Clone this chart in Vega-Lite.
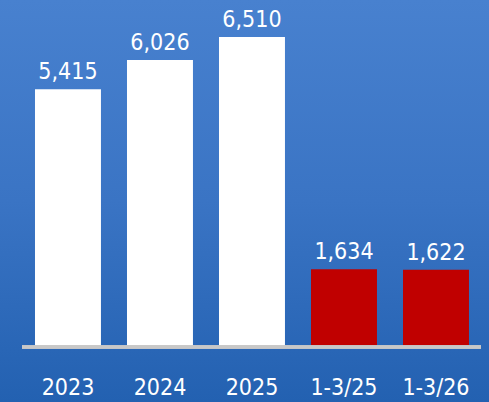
{
  "$schema": "https://vega.github.io/schema/vega-lite/v6.json",
  "width": 489,
  "height": 402,
  "autosize": {"type": "none"},
  "padding": 0,
  "background": "#3670C0",
  "config": {"view": {"stroke": null, "fill": {"gradient": "linear", "x1": 0, "y1": 0, "x2": 0, "y2": 1, "stops": [{"offset": 0, "color": "#4881CF"}, {"offset": 0.5, "color": "#3A74C4"}, {"offset": 1, "color": "#2361B1"}]}}},
  "data": {"values": [
    {"period": "2023", "value": 5415, "group": "year"},
    {"period": "2024", "value": 6026, "group": "year"},
    {"period": "2025", "value": 6510, "group": "year"},
    {"period": "1-3/25", "value": 1634, "group": "q"},
    {"period": "1-3/26", "value": 1622, "group": "q"}
  ]},
  "encoding": {
    "x": {"field": "period", "type": "nominal", "sort": null,
      "scale": {"paddingInner": 0.283, "paddingOuter": 0.299, "align": 0.636},
      "axis": null},
    "y": {"field": "value", "type": "quantitative",
      "scale": {"domain": [-1155, 7287], "nice": false, "zero": false}, "axis": null}
  },
  "layer": [
    {"mark": {"type": "bar"},
     "encoding": {"y2": {"datum": 0},
       "color": {"field": "group", "type": "nominal",
       "scale": {"domain": ["year", "q"], "range": ["#FFFFFF", "#C00000"]}, "legend": null}}},
    {"mark": {"type": "rule", "color": "#C8C8C8", "strokeWidth": 3},
     "encoding": {
       "x": {"datum": "2023", "bandPosition": -0.197},
       "x2": {"datum": "1-3/26", "bandPosition": 1.18},
       "y": {"datum": 0}}},
    {"mark": {"type": "text", "baseline": "alphabetic", "dy": -10, "color": "white",
      "font": "DejaVu Sans Condensed", "fontSize": 23},
     "encoding": {"text": {"field": "value", "type": "quantitative", "format": ","}}},
    {"mark": {"type": "text", "baseline": "alphabetic", "color": "white",
      "font": "DejaVu Sans Condensed", "fontSize": 23},
     "encoding": {"y": {"datum": -1000}, "text": {"field": "period", "type": "nominal"}}}
  ]
}
